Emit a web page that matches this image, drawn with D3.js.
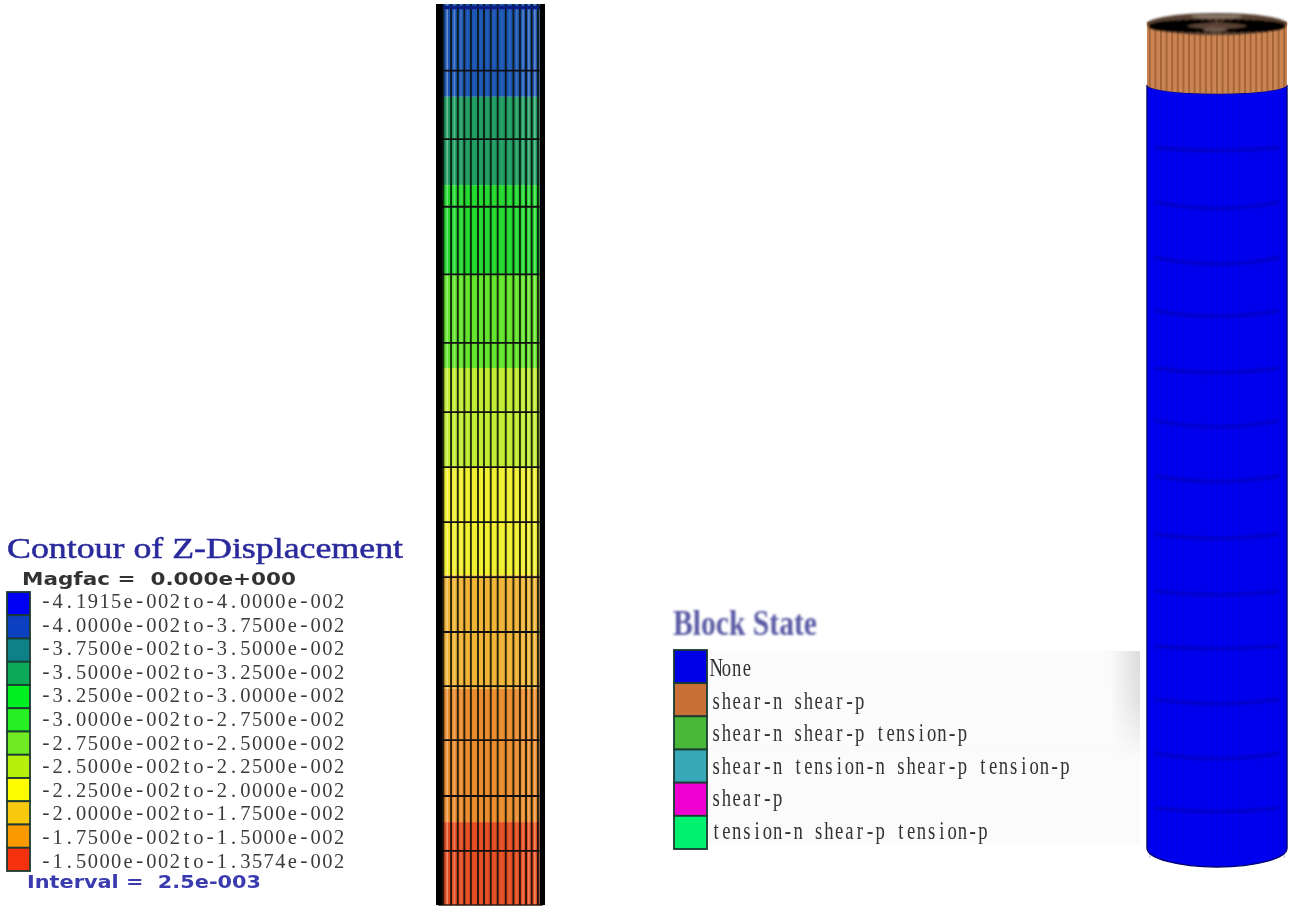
<!DOCTYPE html>
<html><head><meta charset="utf-8">
<script src="https://cdn.jsdelivr.net/npm/d3@7/dist/d3.min.js"></script>
<style>html,body{margin:0;padding:0;background:#fff;overflow:hidden}svg{display:block}</style>
</head><body><svg id="c" width="1299" height="918"></svg>
<script>
// ---- contour legend
const contourTitle = "Contour of Z-Displacement";
const magfacLabel = "Magfac =  0.000e+000";
const intervalLabel = "Interval =  2.5e-003";
const contourLabels = [
 "-4.1915e-002to-4.0000e-002","-4.0000e-002to-3.7500e-002","-3.7500e-002to-3.5000e-002",
 "-3.5000e-002to-3.2500e-002","-3.2500e-002to-3.0000e-002","-3.0000e-002to-2.7500e-002",
 "-2.7500e-002to-2.5000e-002","-2.5000e-002to-2.2500e-002","-2.2500e-002to-2.0000e-002",
 "-2.0000e-002to-1.7500e-002","-1.7500e-002to-1.5000e-002","-1.5000e-002to-1.3574e-002"];
const contourColors = ["#0000f5","#0b3fc0","#0a8088","#0fa858","#00f020","#28f020","#70ea20","#b8f010","#fdfd00","#f8c810","#fb9a05","#f53010"];
// ---- column: band limits as % of column height, from the top
const bandEnds = [10.3,20.1,30,40.4,51.4,63.4,76,90.8,100];
const bandColors = ["#1b55b4","#1f9c60","#20d82e","#62e42a","#c0ec30","#f2f02e","#f0b232","#ea8a2c","#e44c20"];
const meshRows = [7.4,15,22.5,30,37.6,45.3,51.4,57.5,63.6,69.7,75.7,81.7,87.9,94];
const meshCols = [6.8,13.8,20,26,32,38.5,44,50.2,56.6,64,71,77,82.6,87.8,93.5];
// ---- block state legend
const stateTitle = "Block State";
const stateLabels = ["None","shear-n shear-p","shear-n shear-p tension-p","shear-n tension-n shear-p tension-p","shear-p","tension-n shear-p tension-p"];
const stateColors = ["#0000e8","#c87038","#48b838","#38a8b8","#f000d0","#00f070"];
// ---- cylinder: ring depth (% of height) at the edge, and sag at the centre
const ringDepths = [14.3,20.9,27.7,34.2,41.2,47.6,54.4,61.5,68.5,75.2,81.7,88.3,95];
const ringSags = [3,7,7,6,5,7,6,5,4,3,5,6,4];
const copperEnd = 6.7;

const svg = d3.select("#c");
const defs = svg.append("defs");
[["b1",0.65],["b2",0.45],["b3",1.0],["b4",1.5]].forEach(([id,s])=>{
  defs.append("filter").attr("id",id).attr("x","-5%").attr("y","-5%").attr("width","110%").attr("height","110%")
    .append("feGaussianBlur").attr("stdDeviation",s);
});
const gr = defs.append("linearGradient").attr("id","panel");
[[0,"#fbfbfb"],[0.93,"#fbfbfb"],[1,"#dcdcdc"]].forEach(([o,c])=>gr.append("stop").attr("offset",o).attr("stop-color",c));
const grm = defs.append("linearGradient").attr("id","fade").attr("x1",0).attr("y1",0).attr("x2",0).attr("y2",1);
[[0,"#fff",1],[0.25,"#fff",0.9],[0.55,"#fff",0]].forEach(([o,c,a])=>grm.append("stop").attr("offset",o).attr("stop-color",c).attr("stop-opacity",a));
defs.append("mask").attr("id","fm").append("rect").attr("x",700).attr("y",651).attr("width",445).attr("height",194).attr("fill","url(#fade)");

// one glyph per fixed pitch cell, as in the source's monospaced font; hyphens from a font with a longer dash
function pitchText(sel, str, pitch, size){
  const t = sel.append("text").attr("font-family","Liberation Serif").attr("font-size",size).attr("text-anchor","middle");
  Array.from(str).forEach((ch,i)=>{
    const s = t.append("tspan").attr("x",pitch*i+pitch/2).text(ch);
    if(ch==="-") s.attr("font-family","Liberation Mono");
  });
  return t;
}

// ---------- contour legend
const gL = svg.append("g").attr("filter","url(#b2)");
gL.append("text").text(contourTitle).attr("x",7).attr("y",558)
  .attr("font-family","Liberation Serif").attr("font-size",29).attr("fill","#2a2a9c")
  .attr("stroke","#2a2a9c").attr("stroke-width",.5)
  .attr("textLength",396).attr("lengthAdjust","spacingAndGlyphs");
gL.append("text").text(magfacLabel).attr("x",22).attr("y",585).attr("xml:space","preserve")
  .attr("font-family","DejaVu Sans").attr("font-weight","bold").attr("font-size",17).attr("fill","#333")
  .attr("textLength",274).attr("lengthAdjust","spacingAndGlyphs");
gL.append("text").text(intervalLabel).attr("x",27).attr("y",888).attr("xml:space","preserve")
  .attr("font-family","DejaVu Sans").attr("font-weight","bold").attr("font-size",17).attr("fill","#3a3ab0")
  .attr("textLength",234).attr("lengthAdjust","spacingAndGlyphs");
const yLeg = d3.scaleBand().domain(contourLabels).range([592,871]);
const yLegT = d3.scalePoint().domain(contourLabels).range([601.7,861]);
gL.selectAll("rect.s").data(contourLabels).join("rect").attr("class","s")
  .attr("x",7).attr("width",23).attr("y",d=>yLeg(d)).attr("height",yLeg.bandwidth())
  .attr("fill",(d,i)=>contourColors[i]).attr("stroke","#1c3a30").attr("stroke-width",1.8);
contourLabels.forEach(d=>{
  const g = gL.append("g").attr("transform",`translate(40,${yLegT(d)+6.5})`);
  pitchText(g,d,11.73,20.5).attr("fill","#3a3a3a");
});

// ---------- column
const xC = d3.scaleLinear().domain([0,100]).range([436,545]);
const yC = d3.scaleLinear().domain([0,100]).range([4,905]);
const gC = svg.append("g").attr("filter","url(#b1)");
gC.selectAll("rect.b").data(bandEnds).join("rect").attr("class","b")
  .attr("x",xC(5)).attr("width",xC(95)-xC(5))
  .attr("y",(d,i)=>yC(i?bandEnds[i-1]:0)).attr("height",(d,i)=>yC(d)-yC(i?bandEnds[i-1]:0))
  .attr("fill",(d,i)=>bandColors[i]);
gC.selectAll("line.h").data(meshCols.slice(0,-1)).join("line").attr("class","h")
  .attr("x1",(d,i)=>xC((d+meshCols[i+1])/2)).attr("x2",(d,i)=>xC((d+meshCols[i+1])/2))
  .attr("y1",yC(0)).attr("y2",yC(100)).attr("stroke","#fff").attr("stroke-width",1.6)
  .attr("stroke-opacity",(d,i)=>[.35,.28,.16,.06,.04,.04,.04,.06,.08,.1,.16,.24,.28,.32][i]);
gC.selectAll("line.v").data(meshCols).join("line").attr("class","v")
  .attr("x1",d=>xC(d)).attr("x2",d=>xC(d)).attr("y1",yC(0)).attr("y2",yC(100))
  .attr("stroke","#0c1208").attr("stroke-width",1.9).attr("stroke-opacity",.88);
gC.selectAll("line.r").data(meshRows).join("line").attr("class","r")
  .attr("x1",xC(5)).attr("x2",xC(95)).attr("y1",d=>yC(d)).attr("y2",d=>yC(d))
  .attr("stroke","#101010").attr("stroke-width",1.8);
gC.append("path").attr("fill","none").attr("stroke","#0a1a80").attr("stroke-width",3.5)
  .attr("d",`M${xC(4)},${yC(.4)}L${xC(96)},${yC(.4)}`);
gC.append("path").attr("fill","none").attr("stroke","#301810").attr("stroke-width",1.5)
  .attr("d",`M${xC(2)},${yC(100)}L${xC(98)},${yC(100)}`);
const gSides = svg.append("g").attr("filter","url(#b2)");
[[0,6.2],[95,100]].forEach(([a,b])=>gSides.append("rect").attr("x",xC(a)).attr("width",xC(b)-xC(a))
  .attr("y",yC(0)).attr("height",yC(100)-yC(0)).attr("fill","#000"));

// ---------- block state legend
svg.append("rect").attr("x",707).attr("y",651).attr("width",433).attr("height",194).attr("fill","#fbfbfb");
svg.append("rect").attr("x",707).attr("y",651).attr("width",433).attr("height",194).attr("fill","url(#panel)").attr("mask","url(#fm)");
svg.append("line").attr("x1",712).attr("x2",1030).attr("y1",846).attr("y2",846)
  .attr("stroke","#aaa").attr("stroke-width",1.5).attr("stroke-dasharray","2 4").attr("filter","url(#b2)");
svg.append("text").text(stateTitle).attr("x",673).attr("y",635)
  .attr("font-family","Liberation Serif").attr("font-weight","bold").attr("font-size",36).attr("fill","#5a5aa4")
  .attr("textLength",144).attr("lengthAdjust","spacingAndGlyphs").attr("filter","url(#b3)");
const gS = svg.append("g").attr("filter","url(#b2)");
const yS = d3.scaleBand().domain(stateLabels).range([650,849]);
const ySt = d3.scalePoint().domain(stateLabels).range([669,832]);
gS.selectAll("rect.s").data(stateLabels).join("rect").attr("class","s")
  .attr("x",674).attr("width",33).attr("y",d=>yS(d)).attr("height",yS.bandwidth())
  .attr("fill",(d,i)=>stateColors[i]).attr("stroke","#1a3a30").attr("stroke-width",1.8);
stateLabels.forEach(d=>{
  const g = gS.append("g").attr("transform",`translate(711,${ySt(d)+7}) scale(.85,1.12)`);
  pitchText(g,d,12.07,22).attr("fill","#333");
});

// ---------- cylinder
const xR = d3.scaleLinear().domain([0,100]).range([1147,1287]);
const yR = d3.scaleLinear().domain([0,100]).range([30,848]);
const gR = svg.append("g").attr("filter","url(#b1)");
const rx = (xR(100)-xR(0))/2, cx = xR(50);
const arc = (y,sag)=>`A${rx},${sag} 0 0 0 ${xR(100)},${y}`;
gR.append("path").attr("fill","#0404f0").attr("stroke","#000070").attr("stroke-width",1.4)
  .attr("d",`M${xR(0)},${yR(copperEnd)} ${arc(yR(copperEnd),9)} L${xR(100)},${yR(100)} A${rx},19 0 0 1 ${xR(0)},${yR(100)} Z`);
const stripeX = d3.range(2,100,4);
gR.selectAll("line.bs").data(stripeX).join("line").attr("class","bs")
  .attr("x1",d=>xR(d)).attr("x2",d=>xR(d)).attr("y1",yR(copperEnd)+9).attr("y2",yR(100)+10)
  .attr("stroke","#0000b0").attr("stroke-width",1.4).attr("stroke-opacity",.22);
const gRing = svg.append("g").attr("filter","url(#b4)");
gRing.selectAll("path.ring").data(ringDepths).join("path").attr("class","ring")
  .attr("d",(d,i)=>`M${xR(6)},${yR(d)+1} Q${cx},${yR(d)+ringSags[i]*2} ${xR(94)},${yR(d)+1}`)
  .attr("fill","none").attr("stroke","#000078").attr("stroke-width",2).attr("stroke-opacity",.55);
// copper collar
const gT = svg.append("g").attr("filter","url(#b1)");
gT.append("path").attr("fill","#cb8554")
  .attr("d",`M${xR(0)},${yR(-1)} L${xR(100)},${yR(-1)} L${xR(100)},${yR(copperEnd)} A${rx},9 0 0 1 ${xR(0)},${yR(copperEnd)} Z`);
gT.selectAll("line.cs").data(stripeX).join("line").attr("class","cs")
  .attr("x1",d=>xR(d)).attr("x2",d=>xR(d)).attr("y1",yR(-1)).attr("y2",d=>yR(copperEnd)+9*Math.sqrt(1-((d-50)/50)**2))
  .attr("stroke","#96582e").attr("stroke-width",2).attr("stroke-opacity",.7);
// top opening
const gO = svg.append("g").attr("filter","url(#b3)");
gO.append("ellipse").attr("cx",cx).attr("cy",24).attr("rx",rx).attr("ry",11).attr("fill","#5a4234");
const spokes = d3.range(0,360,7);
gO.selectAll("line.sp").data(spokes).join("line").attr("class","sp")
  .attr("x1",d=>cx+rx*.45*Math.cos(d*Math.PI/180)).attr("y1",d=>26+11*.35*Math.sin(d*Math.PI/180))
  .attr("x2",d=>cx+rx*.97*Math.cos(d*Math.PI/180)).attr("y2",d=>26+6.5*Math.sin(d*Math.PI/180))
  .attr("stroke","#000").attr("stroke-width",2.6);
gO.append("ellipse").attr("cx",cx-2).attr("cy",29.5).attr("rx",12).attr("ry",2.5).attr("fill","#6a5648");
gO.append("ellipse").attr("cx",cx).attr("cy",16.5).attr("rx",26).attr("ry",2).attr("fill","#8a7868");
</script></body></html>
